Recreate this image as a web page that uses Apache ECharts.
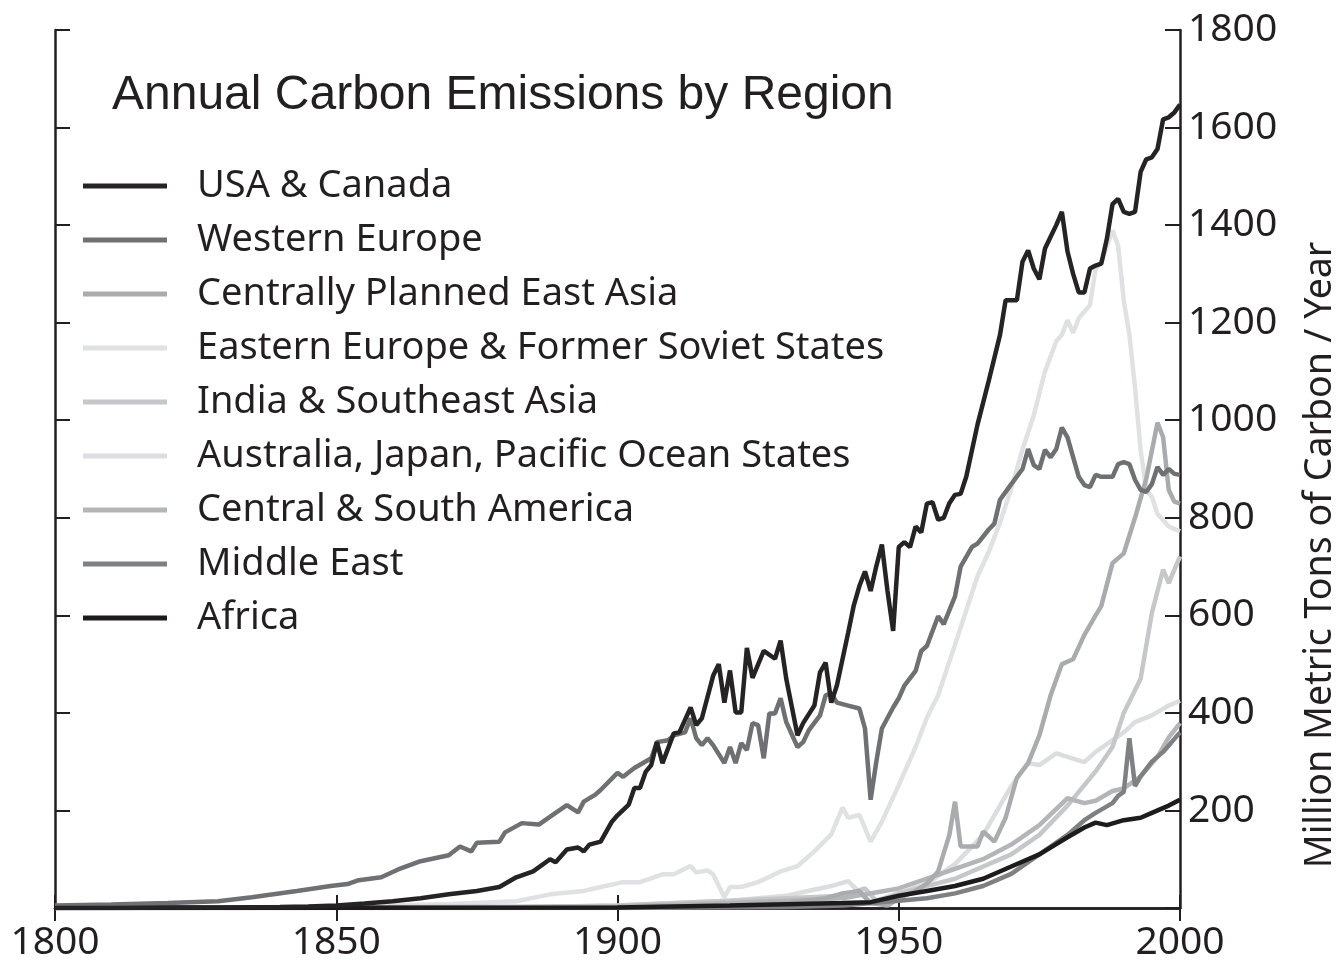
<!DOCTYPE html>
<html>
<head>
<meta charset="utf-8">
<script src="https://cdn.jsdelivr.net/npm/echarts@6/dist/echarts.min.js"></script>
<style>html,body{margin:0;padding:0;background:#fff;}#chart{width:1342px;height:962px;}</style>
</head>
<body>
<div id="chart"></div>
<script>
const seriesNames = ["USA & Canada","Western Europe","Centrally Planned East Asia","Eastern Europe & Former Soviet States","India & Southeast Asia","Australia, Japan, Pacific Ocean States","Central & South America","Middle East","Africa"];
const yTicks = [0,200,400,600,800,1000,1200,1400,1600,1800];
const xTicks = [1800,1850,1900,1950,2000];

const usaYears = [1800,1810,1820,1830,1840,1845,1850,1855,1860,1865,1870,1875,1879,1882,1885,1888,1889,1891,1893,1894,1895,1897,1899,1900,1902,1903,1904,1905,1906,1907,1908,1910,1911,1913,1914,1915,1917,1918,1919,1920,1921,1922,1923,1924,1926,1928,1929,1930,1932,1933,1935,1936,1937,1938,1939,1941,1942,1943,1944,1945,1946,1947,1948,1949,1950,1951,1952,1953,1954,1955,1956,1957,1958,1959,1960,1961,1962,1964,1966,1968,1969,1970,1971,1972,1973,1974,1975,1976,1977,1978,1979,1980,1981,1982,1983,1984,1985,1986,1987,1988,1989,1990,1991,1992,1993,1994,1995,1996,1997,1998,1999,2000];
const usaValues = [0,0,1,1,2,3,5,9,14,20,28,35,43,63,75,100,94,120,124,116,130,136,177,190,212,246,246,279,293,340,297,358,360,411,375,389,476,500,421,487,401,401,533,472,527,511,548,470,354,379,415,483,503,421,456,564,620,660,690,650,700,745,650,568,740,750,740,782,770,829,832,796,800,830,847,849,884,991,1081,1175,1246,1246,1246,1325,1348,1311,1289,1352,1376,1400,1427,1346,1300,1262,1262,1311,1317,1321,1372,1443,1454,1427,1423,1427,1509,1535,1539,1556,1617,1621,1631,1647];

const weYears = [1800,1810,1820,1829,1835,1843,1849,1852,1854,1858,1861,1865,1870,1872,1874,1875,1879,1880,1883,1886,1889,1891,1893,1894,1896,1897,1900,1901,1903,1906,1907,1909,1910,1912,1913,1914,1915,1916,1917,1919,1920,1921,1922,1923,1924,1925,1926,1927,1928,1929,1930,1932,1933,1934,1936,1937,1938,1939,1941,1943,1944,1945,1946,1947,1949,1950,1951,1953,1954,1955,1957,1958,1960,1961,1963,1964,1966,1967,1968,1970,1972,1973,1974,1975,1976,1977,1978,1979,1980,1982,1983,1984,1985,1986,1988,1989,1990,1991,1992,1993,1994,1995,1996,1997,1998,1999,2000];
const weValues = [5,7,10,14,22,35,45,49,57,63,79,96,108,126,116,134,136,155,174,171,195,211,196,218,232,242,277,269,287,307,340,344,354,360,389,348,334,348,334,297,330,297,338,324,379,375,307,399,399,430,381,330,340,364,395,436,440,421,415,409,368,222,299,368,411,430,456,486,527,537,598,582,639,700,740,747,776,788,837,869,900,941,908,900,939,924,941,985,965,884,867,863,888,884,884,910,914,910,878,857,853,869,904,888,900,890,888];

const cpeaYears = [1800,1900,1910,1920,1930,1937,1940,1943,1945,1948,1950,1953,1955,1957,1959,1960,1961,1962,1964,1965,1967,1969,1971,1973,1975,1977,1979,1981,1983,1985,1986,1988,1990,1992,1994,1996,1997,1998,1999,2000];
const cpeaValues = [0,1,3,5,10,20,30,35,10,5,20,35,50,75,150,218,126,126,126,157,136,185,267,297,354,436,500,510,560,600,619,707,727,800,880,995,965,857,833,829];

const eeYears = [1800,1830,1850,1860,1870,1882,1888,1894,1897,1901,1904,1908,1910,1913,1914,1916,1917,1919,1920,1922,1925,1929,1932,1935,1938,1940,1941,1943,1945,1947,1950,1953,1955,1957,1960,1962,1964,1966,1968,1970,1972,1974,1976,1978,1979,1980,1981,1982,1984,1985,1986,1988,1989,1990,1991,1992,1993,1994,1995,1996,1998,2000];
const eeValues = [0,1,3,5,8,14,28,35,43,53,53,69,69,86,73,77,69,22,43,43,53,75,86,116,151,206,185,191,136,177,252,330,390,436,540,610,680,730,790,860,940,1010,1100,1162,1175,1205,1179,1209,1236,1311,1325,1389,1358,1246,1175,1067,939,857,843,808,782,772];

const indYears = [1800,1880,1900,1920,1940,1944,1946,1950,1960,1970,1975,1980,1985,1988,1990,1993,1995,1997,1998,2000];
const indValues = [0,1,5,15,25,40,15,30,60,110,150,210,280,330,400,470,605,694,666,721];

const ajpYears = [1800,1880,1900,1910,1920,1930,1938,1941,1945,1947,1950,1955,1960,1965,1970,1973,1975,1978,1983,1985,1990,1992,1995,1998,2000];
const ajpValues = [0,1,5,10,15,25,45,55,10,15,30,50,90,150,250,297,293,317,299,320,360,381,395,415,425];

const csaYears = [1800,1900,1920,1940,1950,1955,1960,1965,1970,1975,1980,1983,1985,1988,1990,1993,1996,1998,2000];
const csaValues = [0,3,10,20,40,60,80,100,130,170,225,215,220,240,245,270,310,350,379];

const meYears = [1800,1900,1930,1940,1950,1955,1960,1965,1970,1975,1980,1983,1985,1988,1989,1990,1991,1992,1993,1995,1997,2000];
const meValues = [0,0,2,5,15,20,30,45,70,110,150,180,195,215,230,238,348,250,270,300,320,360];

const afrYears = [1800,1900,1920,1940,1945,1950,1955,1960,1965,1970,1975,1980,1983,1985,1987,1990,1993,1995,1998,2000];
const afrValues = [0,1,5,10,12,25,35,45,60,85,110,145,165,175,170,180,185,195,210,222];

const colors = ["#262324","#6f7073","#a9abae","#e0e1e2","#c6c7c9","#dcdddf","#b3b5b8","#7f8083","#1e1b1c"];
const yearLists = [usaYears,weYears,cpeaYears,eeYears,indYears,ajpYears,csaYears,meYears,afrYears];
const valueLists = [usaValues,weValues,cpeaValues,eeValues,indValues,ajpValues,csaValues,meValues,afrValues];

const FONT = "'Noto Sans', sans-serif";
function pairs(i){ return yearLists[i].map((y,k)=>[y, valueLists[i][k]]); }
const drawOrder = [5,3,4,6,2,7,8,1,0];
const series = drawOrder.map(i => ({
  name: seriesNames[i],
  type: 'line',
  showSymbol: false,
  symbol: 'none',
  color: colors[i],
  lineStyle: { width: 4.5, color: colors[i] },
  xAxisIndex: 0,
  yAxisIndex: 0,
  data: pairs(i),
  z: 2
}));

const chart = echarts.init(document.getElementById('chart'));
const axisLine = { show: true, lineStyle: { color: '#231f20', width: 2.5 } };
const tick = (len) => ({ show: true, inside: true, length: len, lineStyle: { color: '#231f20', width: 2 } });
chart.setOption({
  animation: false,
  backgroundColor: '#fff',
  grid: { left: 55, right: 162, top: 30, bottom: 48, containLabel: false },
  legend: {
    orient: 'vertical',
    left: 83, top: 159,
    padding: 0,
    data: seriesNames,
    icon: 'rect',
    itemWidth: 84, itemHeight: 5,
    itemGap: 0,
    textStyle: { fontFamily: FONT, fontSize: 38, color: '#231f20', lineHeight: 54, padding: [0,0,0,25] },
    selectedMode: false
  },
  xAxis: [
    { type: 'value', min: 1800, max: 2000, interval: 50, position: 'bottom',
      axisLine, axisTick: tick(13), splitLine: { show: false },
      axisLabel: { fontFamily: FONT, fontSize: 39, color: '#231f20', margin: 15, formatter: v => String(v) } },
    { type: 'value', min: 1800, max: 2000, interval: 50, position: 'top',
      axisLine, axisTick: tick(13), splitLine: { show: false }, axisLabel: { show: false } }
  ],
  yAxis: [
    { type: 'value', min: 0, max: 1800, interval: 200, position: 'right',
      axisLine, axisTick: tick(15), splitLine: { show: false },
      axisLabel: { fontFamily: FONT, fontSize: 39, color: '#231f20', margin: 8,
        formatter: v => (v === 0 ? '' : String(v)) } },
    { type: 'value', min: 0, max: 1800, interval: 200, position: 'left',
      axisLine, axisTick: tick(15), splitLine: { show: false }, axisLabel: { show: false } }
  ],
  graphic: [
    { type: 'text', left: 112, top: 72, style: { text: 'Annual Carbon Emissions by Region', font: "48px 'Liberation Sans', Arial, sans-serif", fill: '#231f20' } },
    { type: 'text', x: 1320, y: 555, rotation: Math.PI/2, style: { text: 'Million Metric Tons of Carbon / Year', font: "37.5px 'Noto Sans', sans-serif", fill: '#231f20', align: 'center', verticalAlign: 'middle' } }
  ],
  series
});
</script>
</body>
</html>
